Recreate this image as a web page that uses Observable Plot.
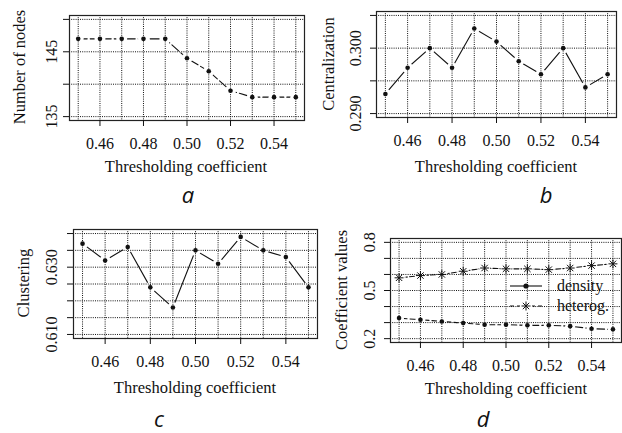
<!DOCTYPE html>
<html><head><meta charset="utf-8">
<script src="https://cdn.jsdelivr.net/npm/d3@7"></script>
<script src="https://cdn.jsdelivr.net/npm/@observablehq/plot@0.6"></script>
<style>
body{margin:0;background:#fff;}
#root{position:relative;width:622px;height:433px;overflow:hidden;background:#fff;font-family:"Liberation Serif","Times New Roman",Times,"DejaVu Serif","Noto Serif",serif;color:#111;}
.pnl{position:absolute;}
.t{position:absolute;white-space:nowrap;font-size:16.5px;line-height:1;transform:translate(-50%,-50%);}
.ty{transform:translate(-50%,-50%) rotate(-90deg);}
.lt{position:absolute;font-family:"Open Sans",Lato,sans-serif;font-style:italic;font-size:22px;line-height:18px;height:18px;transform:translate(-50%,-50%);}
.lg{position:absolute;font-size:16px;line-height:1;white-space:nowrap;}
.lg div{display:flex;align-items:center;height:20px;}
.lg svg{margin-right:14px;}
</style></head><body><div id="root"></div>
<script>
// ---- data ----
const xs = [0.45, 0.46, 0.47, 0.48, 0.49, 0.50, 0.51, 0.52, 0.53, 0.54, 0.55];
const xTicks = [0.46, 0.48, 0.50, 0.52, 0.54];
const nodes = [147, 147, 147, 147, 147, 144, 142, 139, 138, 138, 138];
const centralization = [0.293, 0.297, 0.300, 0.297, 0.303, 0.301, 0.298, 0.296, 0.300, 0.294, 0.296];
const clustering = [0.637, 0.632, 0.636, 0.624, 0.618, 0.635, 0.631, 0.639, 0.635, 0.633, 0.624];
const density = [0.328, 0.318, 0.307, 0.297, 0.287, 0.287, 0.283, 0.283, 0.278, 0.262, 0.258];
const heterog = [0.579, 0.593, 0.600, 0.620, 0.640, 0.635, 0.635, 0.630, 0.640, 0.655, 0.666];
const yTicksA = [135, 140, 145, 150], yLabelsA = [135, 145];
const yTicksB = [0.290, 0.295, 0.300, 0.305], yLabelsB = [0.290, 0.300];
const yTicksC = [0.610, 0.615, 0.620, 0.625, 0.630, 0.635, 0.640], yLabelsC = [0.610, 0.630];
const yTicksD = [0.2, 0.3, 0.4, 0.5, 0.6, 0.7, 0.8], yLabelsD = [0.2, 0.5, 0.8];
const xTitle = "Thresholding coefficient";
const yTitles = ["Number of nodes", "Centralization", "Clustering", "Coefficient values"];
const letters = ["a", "b", "c", "d"];
const legendLabels = ["density", "heterog."];

const root = document.getElementById("root");
const ext = (lo, hi) => [lo - (hi - lo) * 0.04, hi + (hi - lo) * 0.04];
const INK = "#111";
const FONT = "'Liberation Serif', 'Times New Roman', Times, 'DejaVu Serif', serif";

function panel(o) {
  const marks = [];
  const rowsOf = v => xs.map((x, i) => ({x, y: v[i]}));
  for (const s of o.series) marks.push(Plot.line(rowsOf(s.values), {x: "x", y: "y", stroke: INK, strokeWidth: 1.1, strokeDasharray: s.dash}));
  for (const s of o.series) marks.push(Plot.dot(rowsOf(s.values), {x: "x", y: "y", r: s.gap, fill: "white", stroke: "none"}));
  marks.push(Plot.ruleX(xs, {stroke: "#111", strokeWidth: 1, strokeDasharray: "1,1.2"}));
  marks.push(Plot.ruleY(o.yTicks, {stroke: "#111", strokeWidth: 1, strokeDasharray: "1,1.2"}));
  for (const s of o.series) {
    const rows = rowsOf(s.values);
    if (s.symbol === "star") {
      marks.push(Plot.dot(rows, {x: "x", y: "y", symbol: "plus", r: 3, stroke: INK, strokeWidth: 1}));
      marks.push(Plot.dot(rows, {x: "x", y: "y", symbol: "times", r: 3, stroke: INK, strokeWidth: 1}));
    } else {
      marks.push(Plot.dot(rows, {x: "x", y: "y", r: 2.3, fill: INK, stroke: "none"}));
    }
  }
  marks.push(Plot.frame({stroke: "#222", strokeWidth: 1.2}));
  marks.push(Plot.axisX({ticks: xTicks, tickSize: 6, tickPadding: 11, tickFormat: d3.format(".2f"), label: null}));
  marks.push(Plot.axisY({ticks: o.yTicks, tickSize: 6, tickFormat: () => "", label: null}));
  marks.push(Plot.text(o.yLabels, {y: d => d, text: d => o.fmt(d), frameAnchor: "left", dx: o.ldx,
    rotate: -90, textAnchor: "middle", lineAnchor: "middle", fill: INK}));
  const svg = Plot.plot({
    width: o.width, height: o.height,
    marginLeft: o.ml, marginRight: o.mr, marginTop: o.mt, marginBottom: o.mb,
    x: {domain: ext(0.45, 0.55)},
    y: {domain: ext(o.yTicks[0], o.yTicks[o.yTicks.length - 1])},
    style: {fontFamily: FONT, fontSize: "16px", background: "transparent", color: INK},
    marks
  });
  const w = document.createElement("div");
  w.className = "pnl";
  w.style.left = o.left + "px"; w.style.top = o.top + "px";
  w.appendChild(svg);
  root.appendChild(w);
}

panel({left: 0, top: 0, width: 311, height: 160, ml: 69, mr: 7, mt: 15, mb: 40, ldx: -18,
  yTicks: yTicksA, yLabels: yLabelsA, fmt: d3.format("d"),
  series: [{values: nodes, dash: "9,3", gap: 5.5, symbol: "dot"}]});
panel({left: 311, top: 0, width: 311, height: 157, ml: 65, mr: 6, mt: 11, mb: 40, ldx: -21,
  yTicks: yTicksB, yLabels: yLabelsB, fmt: d3.format(".3f"),
  series: [{values: centralization, dash: null, gap: 5.5, symbol: "dot"}]});
panel({left: 0, top: 200, width: 320, height: 178, ml: 73, mr: 3, mt: 29, mb: 40, ldx: -22,
  yTicks: yTicksC, yLabels: yLabelsC, fmt: d3.format(".3f"),
  series: [{values: clustering, dash: null, gap: 5.5, symbol: "dot"}]});
panel({left: 320, top: 200, width: 302, height: 182, ml: 70, mr: 1, mt: 38, mb: 40, ldx: -21,
  yTicks: yTicksD, yLabels: yLabelsD, fmt: d3.format(".1f"),
  series: [{values: density, dash: "8,3", gap: 5, symbol: "dot"},
           {values: heterog, dash: "5,2,1.5,2", gap: 5.5, symbol: "star"}]});

// ---- texts ----
function txt(cls, s, x, y) {
  const d = document.createElement("div");
  d.className = cls; d.textContent = s;
  d.style.left = x + "px"; d.style.top = y + "px";
  root.appendChild(d);
}
const xTitlePos = [[186, 167], [496, 167], [195, 388], [506, 389]];
const yTitlePos = [[20, 67], [329, 64], [24, 283], [342, 290]];
const letterPos = [[188, 194], [546, 194], [159, 418], [483, 418]];
for (let i = 0; i < 4; i++) {
  txt("t", xTitle, xTitlePos[i][0], xTitlePos[i][1]);
  txt("t ty", yTitles[i], yTitlePos[i][0], yTitlePos[i][1]);
  txt("lt", letters[i], letterPos[i][0], letterPos[i][1]);
}

// ---- legend (panel d) ----
const lg = document.createElement("div");
lg.className = "lg";
lg.style.left = "509px"; lg.style.top = "276px";
const sw = [
  `<svg width="34" height="12"><line x1="1" y1="6" x2="33" y2="6" stroke="${INK}" stroke-width="1.1"/><circle cx="17" cy="6" r="2.6" fill="${INK}"/></svg>`,
  `<svg width="34" height="12"><line x1="1" y1="6" x2="33" y2="6" stroke="${INK}" stroke-width="1" stroke-dasharray="4,3"/><rect x="11" y="0" width="12" height="12" fill="white"/><path d="M17 1.5V10.5M12.5 6H21.5M13.8 2.8L20.2 9.2M20.2 2.8L13.8 9.2" stroke="${INK}" stroke-width="1"/></svg>`
];
legendLabels.forEach((l, i) => {
  const row = document.createElement("div");
  row.innerHTML = sw[i] + `<span>${l}</span>`;
  lg.appendChild(row);
});
root.appendChild(lg);
</script></body></html>
